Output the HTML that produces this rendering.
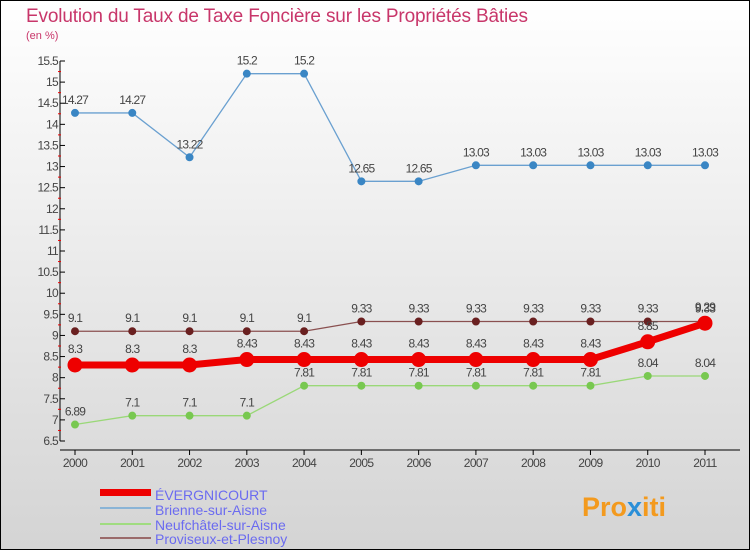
<!DOCTYPE html>
<html><head><meta charset="utf-8"><style>
body{margin:0;width:750px;height:550px;overflow:hidden;font-family:"Liberation Sans",sans-serif}
</style></head><body>
<svg id="c" width="750" height="550" xmlns="http://www.w3.org/2000/svg">
<defs><linearGradient id="bg" x1="0" y1="0" x2="0" y2="1"><stop offset="0" stop-color="#ffffff"/><stop offset="1" stop-color="#d4d4d4"/></linearGradient></defs>
<rect x="0.5" y="0.5" width="749" height="549" fill="url(#bg)" stroke="#000"/>
<text x="26" y="22" font-size="19" fill="#c8366a" textLength="502">Evolution du Taux de Taxe Foncière sur les Propriétés Bâties</text>
<text x="26" y="39" font-size="11" fill="#c8366a">(en %)</text>
<g id="axes"></g><g id="series"></g>
<g>
<rect x="100" y="489" width="51" height="7" fill="#e00"/>
<text x="155" y="500" font-size="14" fill="#6b6bf0">ÉVERGNICOURT</text>
<rect x="100" y="507" width="51" height="2" fill="#8ab4d6"/>
<text x="155" y="515" font-size="14" fill="#6b6bf0">Brienne-sur-Aisne</text>
<rect x="100" y="523" width="51" height="2" fill="#a0dc80"/>
<text x="155" y="530" font-size="14" fill="#6b6bf0">Neufchâtel-sur-Aisne</text>
<rect x="100" y="537" width="51" height="2" fill="#9a6a6a"/>
<text x="155" y="544" font-size="14" fill="#6b6bf0">Proviseux-et-Plesnoy</text>
</g>
<text x="582" y="516" font-size="27" font-weight="bold" fill="#f39a1e">Pro<tspan fill="#2a8fd8">x</tspan>iti</text>
</svg>
<script>
const years=[2000,2001,2002,2003,2004,2005,2006,2007,2008,2009,2010,2011];
const yTicks=[6.5,7,7.5,8,8.5,9,9.5,10,10.5,11,11.5,12,12.5,13,13.5,14,14.5,15,15.5];
const evergnicourt=[8.3,8.3,8.3,8.43,8.43,8.43,8.43,8.43,8.43,8.43,8.85,9.29];
const brienne=[14.27,14.27,13.22,15.2,15.2,12.65,12.65,13.03,13.03,13.03,13.03,13.03];
const neufchatel=[6.89,7.1,7.1,7.1,7.81,7.81,7.81,7.81,7.81,7.81,8.04,8.04];
const proviseux=[9.1,9.1,9.1,9.1,9.1,9.33,9.33,9.33,9.33,9.33,9.33,9.33];
const NS="http://www.w3.org/2000/svg";
const X=i=>75+i*(705-75)/(years.length-1);
const Y=v=>441-(v-6.5)*(441-61)/9;
function mk(tag,attrs,parent,txt){const e=document.createElementNS(NS,tag);for(const k in attrs)e.setAttribute(k,attrs[k]);if(txt!==undefined)e.textContent=txt;parent.appendChild(e);return e;}
const ax=document.getElementById('axes');
let e=mk('line',{x1:60,y1:61,x2:60,y2:441,stroke:'#000'},ax);


e=mk('line',{x1:60,y1:450,x2:740,y2:450,stroke:'#000'},ax);


yTicks.forEach((t,i)=>{const y=Y(t);mk('line',{x1:60,y1:y,x2:65,y2:y,stroke:'#000'},ax);
 if(i<yTicks.length-1)mk('line',{x1:58,y1:(y+Y(yTicks[i+1]))/2,x2:61,y2:(y+Y(yTicks[i+1]))/2,stroke:'#e00'},ax);
 e=mk('text',{x:58,y:y+4,'font-size':12,fill:'#444','text-anchor':'end','letter-spacing':'-0.7'},ax,String(t));
 
 });
years.forEach((yr,i)=>{const x=X(i);mk('line',{x1:x,y1:450,x2:x,y2:455,stroke:'#000'},ax);
 e=mk('text',{x:x,y:467,'font-size':12,fill:'#444','text-anchor':'middle','letter-spacing':'-0.6'},ax,String(yr));
 
 });
const sg=document.getElementById('series');
function series(vals,name,color,dot,w,r,labelDy){
 const g=mk('g',{},sg);
 
 
 mk('polyline',{points:vals.map((v,i)=>X(i)+','+Y(v)).join(' '),fill:'none',stroke:color,'stroke-width':w},g);
 vals.forEach((v,i)=>{const p=mk('circle',{cx:X(i),cy:Y(v),r:r,fill:dot,stroke:dot},g);
  
  
  const t=mk('text',{x:X(i),y:Y(v)+labelDy,'font-size':12,fill:'#444','text-anchor':'middle','letter-spacing':'-0.8'},g,String(v));
  
  });
}
series(brienne,'brienne','#6aa0d0','#3a86c4',1.3,3.5,-9);
series(neufchatel,'neufchatel','#9ad878','#78c850',1.3,3.5,-9);
series(proviseux,'proviseux','#8a5050','#6a2020',1.3,3.5,-9);
series(evergnicourt,'evergnicourt','#ee0000','#ee0000',7,7,-12);
</script>
</body></html>
